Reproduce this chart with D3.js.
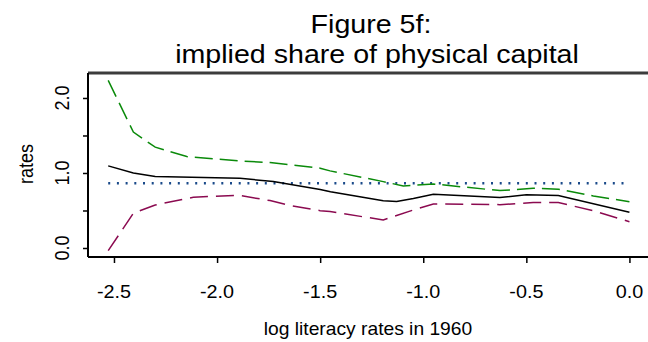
<!DOCTYPE html>
<html>
<head>
<meta charset="utf-8">
<script src="https://cdn.jsdelivr.net/npm/d3@7"></script>
<style>
  body { margin: 0; background: #fff; }
  text { font-family: "Liberation Sans", Arial, sans-serif; fill: #000; }
</style>
</head>
<body>
<div id="chart"></div>
<script>
// literacy (log) grid for each curve
const xEst = [-2.528, -2.406, -2.30, -1.889, -1.727, -1.50, -1.45, -1.194, -1.129, -1.048, -0.951, -0.628, -0.50, -0.345, 0.0];
const estimate = [1.095, 1.0, 0.952, 0.93, 0.885, 0.78, 0.75, 0.63, 0.62, 0.66, 0.716, 0.672, 0.71, 0.70, 0.477];

const xUpper = [-2.528, -2.406, -2.30, -2.147, -1.897, -1.743, -1.50, -1.452, -1.194, -1.097, -0.951, -0.628, -0.467, -0.345, -0.175, 0.0];
const upper = [2.234, 1.545, 1.344, 1.219, 1.162, 1.139, 1.064, 1.028, 0.885, 0.828, 0.854, 0.765, 0.797, 0.784, 0.694, 0.618];

const xLower = [-2.528, -2.406, -2.30, -2.115, -1.897, -1.743, -1.646, -1.50, -1.452, -1.194, -1.048, -0.951, -0.628, -0.467, -0.345, -0.175, 0.0];
const lower = [-0.036, 0.463, 0.574, 0.677, 0.703, 0.632, 0.565, 0.498, 0.485, 0.374, 0.507, 0.587, 0.578, 0.605, 0.605, 0.498, 0.351];

const refX = [-2.528, 0.0];
const refValue = [0.864, 0.864];

const xTicks = [-2.5, -2.0, -1.5, -1.0, -0.5, 0.0];
const xTickLabels = ["-2.5", "-2.0", "-1.5", "-1.0", "-0.5", "0.0"];
const yTicks = [0.0, 0.5, 1.0, 1.5, 2.0];
const yLabelTicks = [0.0, 1.0, 2.0];
const yTickLabels = ["0.0", "1.0", "2.0"];

const width = 648, height = 342;
const margin = { top: 73, right: -7, bottom: 85, left: 88 };

const x = d3.scaleLinear()
    .domain([-2.626, 0.124])
    .range([margin.left, width - margin.right]);

const y = d3.scaleLinear()
    .domain([-0.12, 2.333])
    .range([height - margin.bottom, margin.top]);

const svg = d3.select("#chart")
    .append("svg")
    .attr("width", width)
    .attr("height", height);

const sx = 1.1; // glyphs in the reference are a bit wide

function label(g, tx, ty, str, size, rotate) {
    g.append("text")
        .attr("transform", `translate(${tx},${ty}) rotate(${rotate || 0}) scale(${rotate ? 1 : sx},${rotate ? sx : 1})`)
        .attr("text-anchor", "middle")
        .attr("font-size", size)
        .text(str);
}

// title
label(svg, 371, 33, "Figure 5f:", 26);
label(svg, 377, 63, "implied share of physical capital", 26);

// curves
const line = d3.line().x(d => x(d[0])).y(d => y(d[1]));

svg.append("path")
    .datum(d3.zip(refX, refValue))
    .attr("d", line)
    .attr("fill", "none")
    .attr("stroke", "#1a4a8a")
    .attr("stroke-width", 2.5)
    .attr("stroke-dasharray", "2,6.7");

svg.append("path")
    .datum(d3.zip(xUpper, upper))
    .attr("d", line)
    .attr("fill", "none")
    .attr("stroke", "#0a8a0a")
    .attr("stroke-width", 1.5)
    .attr("stroke-dasharray", "18,7");

svg.append("path")
    .datum(d3.zip(xLower, lower))
    .attr("d", line)
    .attr("fill", "none")
    .attr("stroke", "#8b0a50")
    .attr("stroke-width", 1.5)
    .attr("stroke-dasharray", "18,8");

svg.append("path")
    .datum(d3.zip(xEst, estimate))
    .attr("d", line)
    .attr("fill", "none")
    .attr("stroke", "#000")
    .attr("stroke-width", 1.5);

// frame: top, left, bottom (right edge falls outside the picture)
svg.append("line")
    .attr("x1", x.range()[0]).attr("x2", x.range()[1])
    .attr("y1", y.range()[1]).attr("y2", y.range()[1])
    .attr("stroke", "#3c3c3c").attr("stroke-width", 3);

// axes
const xAxis = svg.append("g")
    .attr("transform", `translate(0,${y.range()[0]})`)
    .call(d3.axisBottom(x).tickValues(xTicks).tickSize(6).tickFormat(""));
const yAxis = svg.append("g")
    .attr("transform", `translate(${x.range()[0]},0)`)
    .call(d3.axisLeft(y).tickValues(yTicks).tickSize(5).tickFormat(""));

[xAxis, yAxis].forEach(g => {
    g.select(".domain").attr("stroke", "#000").attr("stroke-width", 2);
    g.selectAll(".tick line").attr("stroke", "#000").attr("stroke-width", 1.5);
});
yAxis.select(".domain").attr("d", `M0,${y.range()[0]}V${y.range()[1]}`);
xAxis.select(".domain").attr("d", `M${x.range()[0]},0H${x.range()[1]}`);

xTicks.forEach((v, i) => label(svg, x(v), 298, xTickLabels[i], 18));
yLabelTicks.forEach((v, i) => label(svg, 69, y(v), yTickLabels[i], 18, -90));

// axis titles
label(svg, 368, 335, "log literacy rates in 1960", 17.5);
label(svg, 33, 164, "rates", 18, -90);
</script>
</body>
</html>
